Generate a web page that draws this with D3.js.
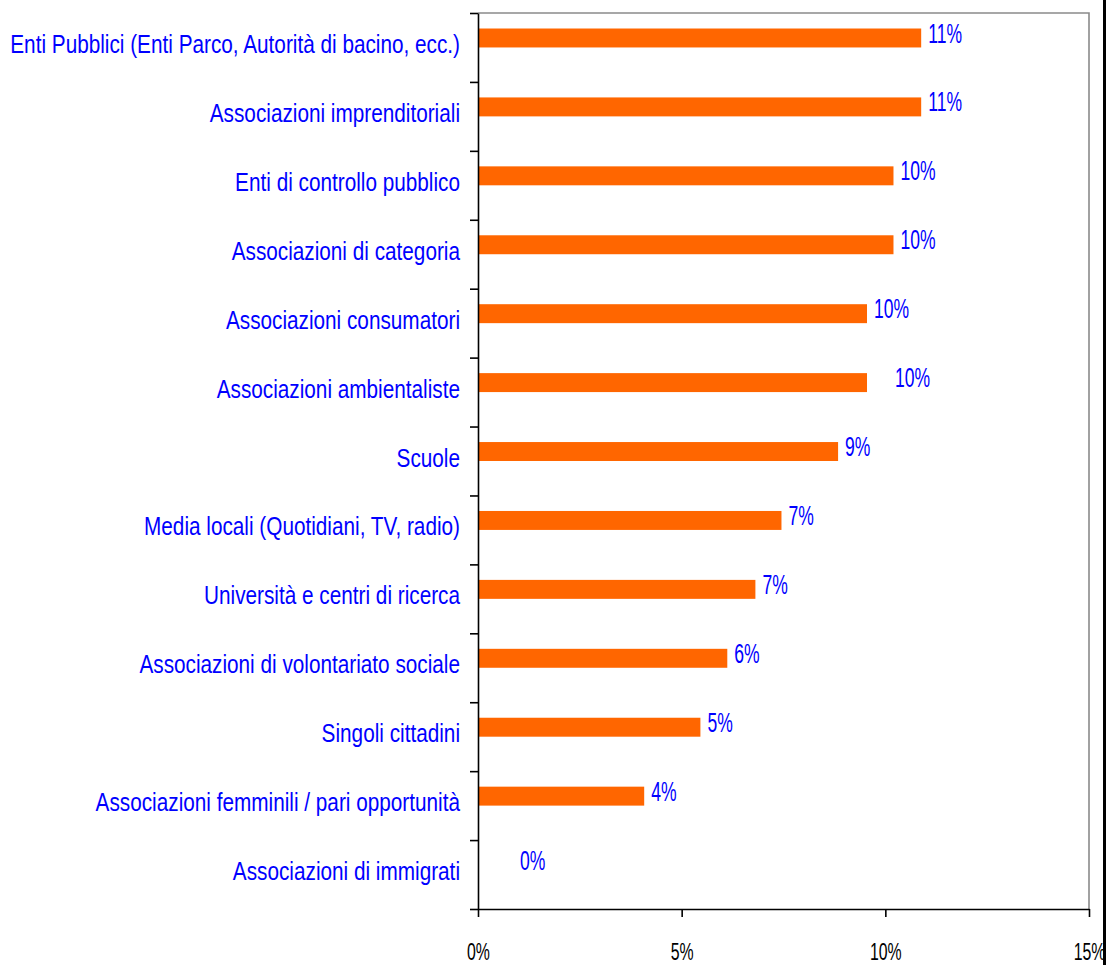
<!DOCTYPE html>
<html>
<head>
<meta charset="utf-8">
<script src="https://cdn.jsdelivr.net/npm/d3@7/dist/d3.min.js"></script>
<style>
  html, body { margin: 0; padding: 0; background: #ffffff; }
  svg { display: block; }
  text { font-family: "Liberation Sans", Arial, sans-serif; }
</style>
</head>
<body>
<svg id="chart" width="1106" height="965"></svg>
<script>
// Categorie (dall'alto verso il basso)
const categorie = [
  "Enti Pubblici (Enti Parco, Autorità di bacino, ecc.)",
  "Associazioni imprenditoriali",
  "Enti di controllo pubblico",
  "Associazioni di categoria",
  "Associazioni consumatori",
  "Associazioni ambientaliste",
  "Scuole",
  "Media locali (Quotidiani, TV, radio)",
  "Università e centri di ricerca",
  "Associazioni di volontariato sociale",
  "Singoli cittadini",
  "Associazioni femminili / pari opportunità",
  "Associazioni di immigrati"
];

// Quote percentuali (frazione)
const quote = [0.1088, 0.1088, 0.1020, 0.1020, 0.0955, 0.0955, 0.0884, 0.0745, 0.0681, 0.0612, 0.0546, 0.0408, 0.0];

// Valori dell'asse orizzontale
const tickAsse = [0, 0.05, 0.10, 0.15];

const W = 1106, H = 965;
const plot = { left: 478, right: 1089, top: 13, bottom: 909 };

const svg = d3.select("#chart");
svg.append("rect").attr("width", W).attr("height", H).attr("fill", "#ffffff");

const x = d3.scaleLinear().domain([0, 0.15]).range([plot.left, plot.right]);

// Each row holds a bar in the upper half of its slot
const y = d3.scaleBand()
  .domain(categorie)
  .range([plot.top, plot.bottom])
  .paddingInner(0.45)
  .paddingOuter(0.225);
const step = y.step();
const rowStart = c => plot.top + categorie.indexOf(c) * step;
const barH = y.bandwidth() / 2;

const dati = categorie.map((c, i) => ({ cat: c, val: quote[i] }));

// Plot frame (grey top and right edges)
svg.append("path")
  .attr("d", `M${plot.left},${plot.top}H${plot.right}V${plot.bottom}`)
  .attr("fill", "none")
  .attr("stroke", "#8a8a8a")
  .attr("stroke-width", 1.6);

// Bars
svg.append("g").selectAll("rect")
  .data(dati)
  .join("rect")
  .attr("x", x(0))
  .attr("y", d => y(d.cat))
  .attr("width", d => x(d.val) - x(0))
  .attr("height", barH)
  .attr("fill", "#ff6600");

// Value labels (a couple nudged right)
const spostamento = { "Associazioni ambientaliste": 21, "Associazioni di immigrati": 35 };
const fmt = d3.format(".0%");
svg.append("g").selectAll("text")
  .data(dati)
  .join("text")
  .attr("transform", d => `translate(${x(d.val) + 7 + (spostamento[d.cat] || 0)},${rowStart(d.cat) + 29.5}) scale(0.65,1)`)
  .attr("font-size", 27)
  .attr("fill", "#0000ff")
  .text(d => fmt(d.val));

// Category labels
svg.append("g").selectAll("text")
  .data(categorie)
  .join("text")
  .attr("transform", c => `translate(460,${rowStart(c) + 40}) scale(0.83,1)`)
  .attr("text-anchor", "end")
  .attr("font-size", 25)
  .attr("fill", "#0000ff")
  .text(c => c);

// Left axis: tick marks on the category boundaries
const yConf = d3.scaleLinear().domain([0, categorie.length]).range([plot.top, plot.bottom]);
const assey = svg.append("g")
  .attr("transform", `translate(${plot.left},0)`)
  .call(d3.axisLeft(yConf).tickValues(d3.range(0, categorie.length + 1)).tickSize(8).tickSizeOuter(0).tickFormat(""));
assey.selectAll("path, line").attr("stroke", "#000").attr("stroke-width", 1.6);

// Bottom axis
const assex = svg.append("g")
  .attr("transform", `translate(0,${plot.bottom})`)
  .call(d3.axisBottom(x).tickValues(tickAsse).tickSize(8).tickSizeOuter(0).tickPadding(26).tickFormat(fmt));
assex.selectAll("path, line").attr("stroke", "#000").attr("stroke-width", 1.6);
assex.selectAll("text")
  .attr("font-size", 24)
  .attr("font-family", "\"Liberation Sans\", Arial, sans-serif")
  .attr("fill", "#000")
  .attr("transform", "scale(0.66,1)");

// Dark rule along the right edge
svg.append("rect").attr("x", 1103).attr("y", 0).attr("width", 3).attr("height", H).attr("fill", "#000");
</script>
</body>
</html>
